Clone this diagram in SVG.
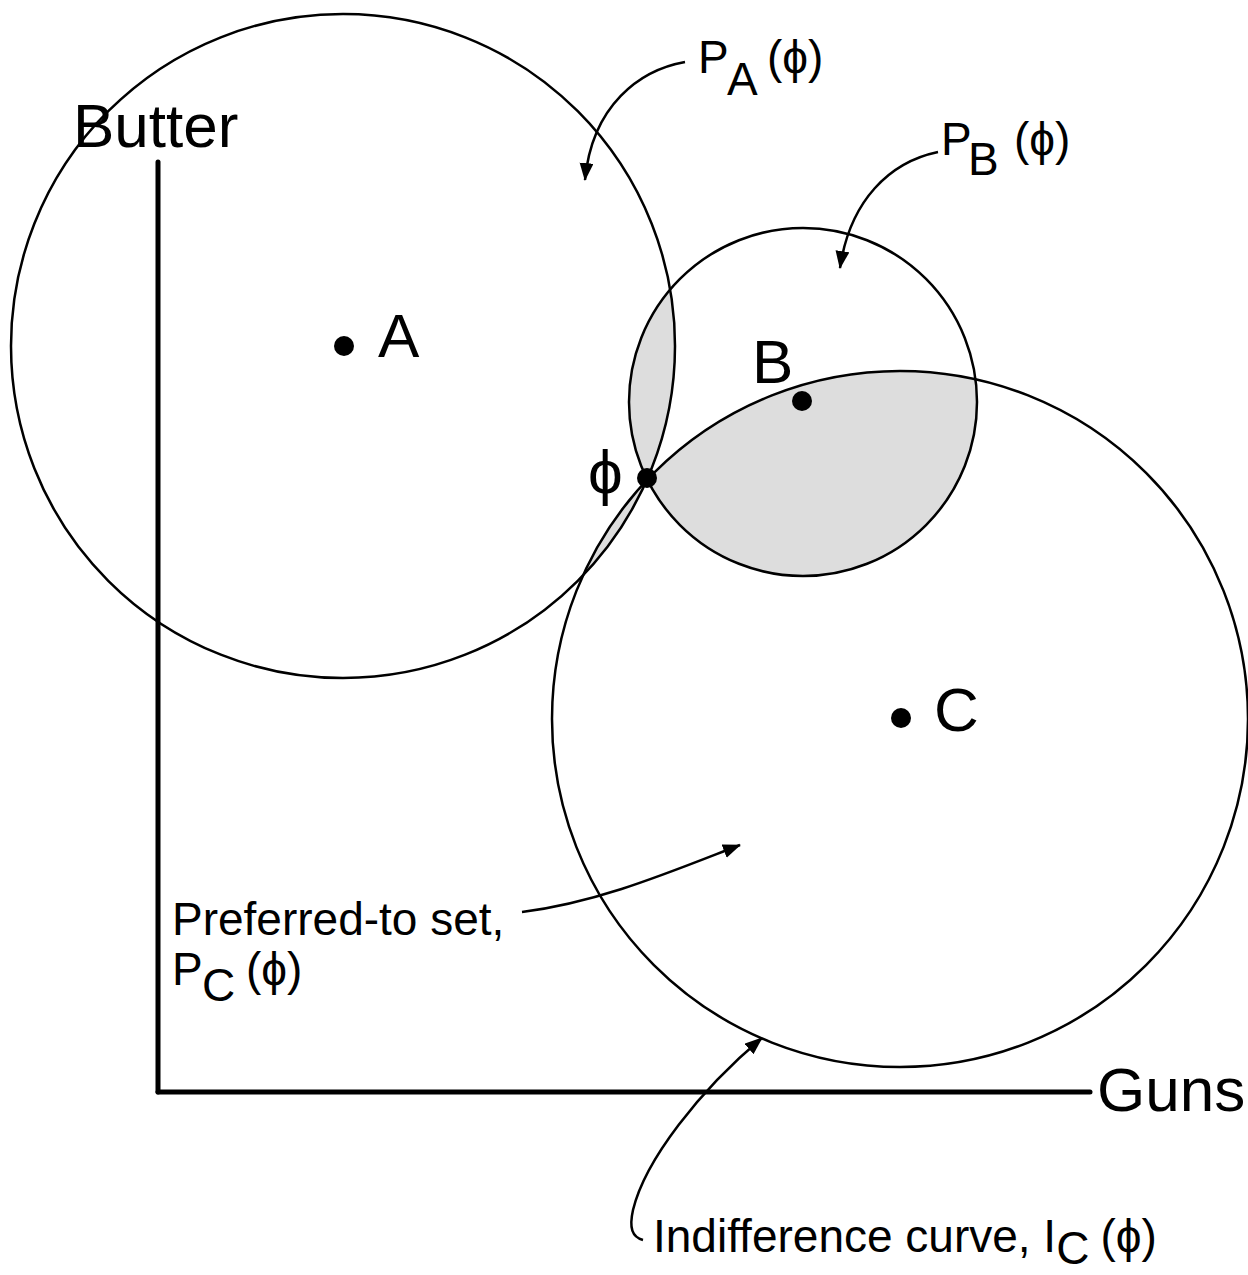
<svg xmlns="http://www.w3.org/2000/svg" width="1248" height="1275" viewBox="0 0 1248 1275">
<style>
.c{fill:none;stroke:#000;stroke-width:2.5}
.ax{fill:none;stroke:#000;stroke-width:5;stroke-linecap:round}
.t{font-family:"Liberation Sans",Arial,"DejaVu Sans",sans-serif;fill:#000}
.big{font-size:62px}
.med{font-size:46px}
.ar{fill:none;stroke:#000;stroke-width:2.5}
.sh{fill:#dddddd;stroke:none}
</style>
<defs>
<clipPath id="clipA"><circle cx="343" cy="346" r="332"/></clipPath>
<clipPath id="clipC"><circle cx="900" cy="719" r="348"/></clipPath>
<marker id="ah" markerUnits="userSpaceOnUse" markerWidth="20" markerHeight="16" refX="17" refY="7" orient="auto">
<path d="M0,0 L18,7 L0,14 Z" fill="#000"/>
</marker>
</defs>
<rect width="1248" height="1275" fill="#fff"/>
<g id="shading">
<circle class="sh" cx="803" cy="402" r="174" clip-path="url(#clipA)"/>
<circle class="sh" cx="803" cy="402" r="174" clip-path="url(#clipC)"/>
<circle class="sh" cx="900" cy="719" r="348" clip-path="url(#clipA)"/>
</g>
<g id="axes">
<line class="ax" x1="158" y1="162" x2="158" y2="1092"/>
<line class="ax" x1="158" y1="1092" x2="1090" y2="1092"/>
<text class="t big" x="73" y="147">Butter</text>
<text class="t big" x="1097" y="1111">Guns</text>
</g>
<g id="circleA">
<circle class="c" cx="343" cy="346" r="332"/>
<circle cx="344" cy="346" r="10" fill="#000"/>
<text class="t big" x="378" y="357">A</text>
</g>
<g id="circleB">
<circle class="c" cx="803" cy="402" r="174"/>
<circle cx="802" cy="401" r="10" fill="#000"/>
<text class="t big" x="752" y="383">B</text>
</g>
<g id="circleC">
<circle class="c" cx="900" cy="719" r="348"/>
<circle cx="901" cy="718" r="10" fill="#000"/>
<text class="t big" x="934" y="731">C</text>
</g>
<g id="phi">
<circle cx="647" cy="478" r="10" fill="#000"/>
<text class="t big" x="588" y="493">ϕ</text>
</g>
<g id="labelPA">
<text class="t med"><tspan x="698" y="73">P</tspan><tspan x="727" y="95">A</tspan><tspan x="767" y="73">(ϕ)</tspan></text>
</g>
<g id="labelPB">
<text class="t med"><tspan x="941" y="155">P</tspan><tspan x="968" y="175">B</tspan><tspan x="1014" y="155">(ϕ)</tspan></text>
</g>
<g id="labelPC">
<text class="t med"><tspan x="172" y="935">Preferred-to set,</tspan></text>
<text class="t med"><tspan x="172" y="985">P</tspan><tspan x="202" y="1001">C</tspan><tspan x="246" y="985">(ϕ)</tspan></text>
</g>
<g id="labelIC">
<text class="t med"><tspan x="653" y="1252">Indifference curve, I</tspan><tspan dy="12">C</tspan><tspan dy="-12" dx="11">(ϕ)</tspan></text>
</g>
<g id="connectors">
<path class="ar" d="M685,62 C640,70 592,105 585,180" marker-end="url(#ah)"/>
<path class="ar" d="M938,152 C890,162 850,200 840,268" marker-end="url(#ah)"/>
<path class="ar" d="M522,912 C600,902 670,872 740,845" marker-end="url(#ah)"/>
<path class="ar" stroke-width="2" d="M643,1240 C632,1237 629,1228 633,1210 C645,1160 700,1090 762,1038" marker-end="url(#ah)"/>
</g>
</svg>
